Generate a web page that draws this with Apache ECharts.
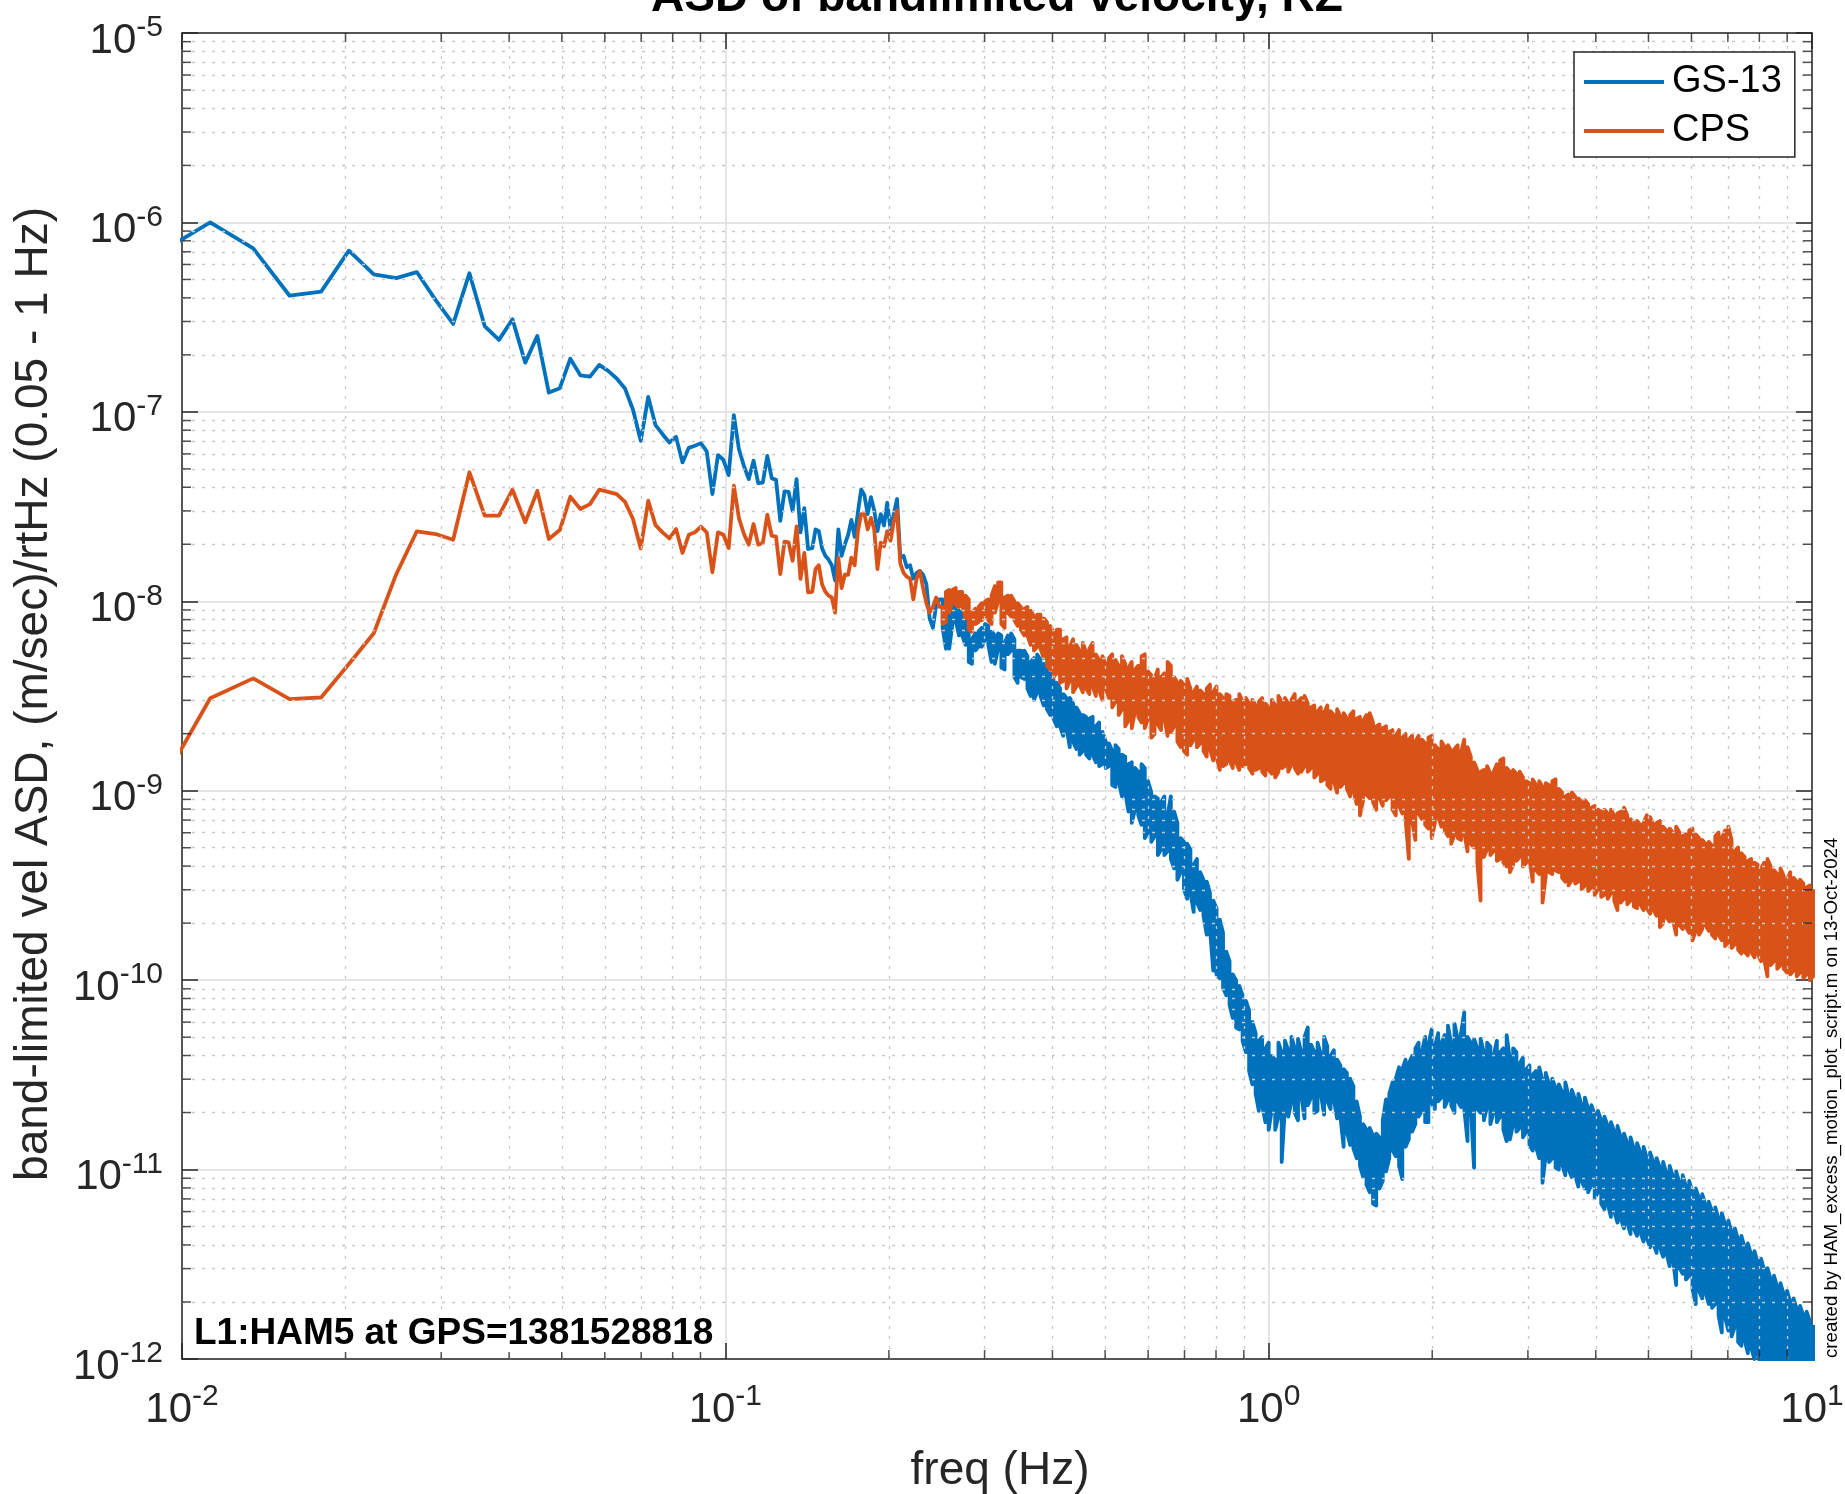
<!DOCTYPE html>
<html><head><meta charset="utf-8">
<script src="https://cdn.jsdelivr.net/npm/echarts@6/dist/echarts.min.js"></script>
<style>html,body{margin:0;padding:0;background:#fff}#c{width:1845px;height:1494px}</style>
</head><body><div id="c"></div>
<script>
// ---------------- data ----------------
const seriesNames = ['GS-13', 'CPS'];
const titleText = 'ASD of bandlimited velocity, RZ';
const xName = 'freq (Hz)';
const yName = 'band-limited vel ASD, (m/sec)/rtHz (0.05 - 1 Hz)';
const noteText = 'L1:HAM5 at GPS=1381528818';
const creditText = 'created by HAM_excess_motion_plot_script.m on 13-Oct-2024';
const xTickExps = [-2, -1, 0, 1];
const yTickExps = [-12, -11, -10, -9, -8, -7, -6, -5];
const minorMantissa = [2, 3, 4, 5, 6, 7, 8, 9];

// low-frequency resolved bins: f = k * binDf, k = 4..63, values as log10
const binDf = 0.002254;
const binK0 = 4;
const gsBinLog = [-6.166,-6.000,-6.137,-6.387,-6.365,-6.149,-6.274,-6.294,-6.262,-6.410,
 -6.536,-6.268,-6.547,-6.620,-6.511,-6.740,-6.599,-6.898,-6.875,-6.719,
 -6.807,-6.814,-6.752,-6.784,-6.824,-6.877,-6.989,-7.153,-6.921,-7.070,
 -7.118,-7.162,-7.132,-7.267,-7.190,-7.179,-7.165,-7.209,-7.434,-7.228,
 -7.253,-7.334,-7.018,-7.197,-7.285,-7.355,-7.258,-7.376,-7.373,-7.232,
 -7.350,-7.359,-7.575,-7.420,-7.422,-7.522,-7.355,-7.636,-7.508,-7.724];
const cpsBinLog = [-9.001,-8.512,-8.407,-8.516,-8.508,-8.331,-8.169,-7.857,-7.631,-7.645,
 -7.675,-7.319,-7.548,-7.548,-7.411,-7.583,-7.417,-7.671,-7.624,-7.448,
 -7.513,-7.487,-7.411,-7.422,-7.434,-7.475,-7.566,-7.721,-7.469,-7.598,
 -7.636,-7.668,-7.619,-7.745,-7.649,-7.636,-7.606,-7.636,-7.847,-7.636,
 -7.649,-7.719,-7.390,-7.561,-7.645,-7.701,-7.592,-7.701,-7.692,-7.543,
 -7.654,-7.659,-7.856,-7.685,-7.689,-7.786,-7.605,-7.882,-7.745,-7.953];

// higher frequencies on a log grid: log10 f = gridLog0 + gridStep * i ; values = 100*log10(ASD)
const gridLog0 = -0.84;
const gridStep = 0.006;
// i = 0..39 : single reading per column
const gsMid = [-772,-762,-763,-772,-776,-778,-781,-789,-762,-776,
 -770,-765,-757,-766,-753,-741,-744,-754,-745,-752,
 -763,-754,-760,-748,-762,-754,-746,-777,-776,-782,
 -781,-788,-785,-784,-786,-791,-809,-814,-802,-799];
const cpsMid = [-795,-783,-781,-791,-795,-797,-798,-806,-777,-793,
 -786,-786,-777,-781,-763,-754,-754,-762,-756,-762,
 -783,-769,-771,-763,-768,-758,-752,-780,-785,-787,
 -788,-799,-788,-784,-793,-801,-806,-803,-798,-803];
// i = 40..307 : column max (hi) and min (lo)
const denseStart = 40;
const gsHi = [-799,-802,-806,-801,-800,-805,-807,-806,-810,-820,
 -817,-816,-814,-812,-813,-816,-818,-817,-818,-822,
 -818,-817,-820,-826,-826,-826,-829,-832,-830,-828,
 -831,-833,-836,
 -838,-841,-843,-846,-849,-851,-851,-854,-856,-859,
 -860,-861,-862,-861,-866,-864,-869,-874,-875,-879,
 -876,-878,-881,-882,-886,-885,-888,-890,-886,-888,
 -895,-901,-903,-904,-906,-903,-913,-903,-911,-917,
 -925,-927,-928,-931,-939,-936,-943,-947,-948,-954,
 -958,
 -962,-968,-975,-985,-990,-997,-1000,-1003,-1008,-1011,
 -1016,-1022,-1028,-1032,-1030,-1036,-1033,-1040,-1042,-1033,
 -1038,-1032,-1037,-1030,-1036,-1031,-1038,-1030,-1025,-1034,
 -1038,-1033,-1039,-1030,-1035,-1040,-1037,-1042,-1045,-1047,
 -1049,-1052,-1056,-1064,-1072,-1076,-1079,-1078,-1082,-1081,
 -1083,-1074,-1063,-1060,-1054,-1052,-1046,-1047,-1042,-1044,
 -1040,-1036,-1033,-1038,-1030,-1034,-1026,-1035,-1028,-1033,
 -1029,-1024,-1034,-1023,-1031,-1028,-1017,-1030,-1033,-1031,
 -1036,-1031,-1038,-1033,-1035,-1040,-1032,-1038,-1036,-1029,
 -1042,-1036,-1038,-1044,-1041,-1047,-1045,-1050,-1048,-1046,
 -1053,-1049,-1055,-1052,-1057,-1055,-1059,-1054,-1061,-1058,
 -1063,-1060,-1066,-1062,-1068,-1066,-1071,-1069,-1074,-1072,
 -1077,-1075,-1080,-1077,-1083,-1081,-1086,-1083,-1089,-1086,
 -1091,-1088,-1094,-1091,-1096,-1094,-1099,-1096,-1102,-1098,
 -1104,-1101,-1107,-1103,-1109,-1106,-1112,-1110,-1115,-1113,
 -1119,-1117,-1122,-1120,-1126,-1123,-1129,-1127,-1133,-1131,
 -1137,-1135,-1141,-1139,-1145,-1143,-1149,-1147,-1153,-1152,
 -1158,-1156,-1162,-1160,-1166,-1164,-1170,-1168,-1174,-1172,
 -1177,-1175,-1180,-1182];
const gsLo = [-814,-825,-825,-812,-810,-818,-818,-823,-832,-833,
 -826,-824,-824,-820,-823,-832,-833,-825,-835,-836,
 -828,-826,-840,-843,-840,-841,-846,-850,-852,-848,
 -850,-855,-857,
 -860,-862,-866,-866,-871,-867,-877,-874,-878,-881,
 -879,-881,-883,-881,-885,-887,-886,-888,-887,-897,
 -898,-895,-903,-901,-911,-917,-910,-913,-918,-925,
 -922,-927,-924,-934,-931,-934,-932,-936,-941,-947,
 -943,-952,-957,-954,-964,-959,-963,-966,-976,-973,
 -995,
 -997,-999,-1004,-1008,-1013,-1020,-1025,-1026,-1032,-1038,
 -1048,-1055,-1060,-1069,-1066,-1075,-1079,-1068,-1079,-1072,
 -1096,-1066,-1072,-1064,-1070,-1074,-1061,-1073,-1066,-1062,
 -1070,-1069,-1060,-1071,-1064,-1068,-1063,-1073,-1072,-1088,
 -1080,-1087,-1089,-1094,-1098,-1104,-1108,-1112,-1118,-1119,
 -1110,-1106,-1101,-1094,-1090,-1093,-1098,-1105,-1088,-1084,
 -1080,-1076,-1072,-1069,-1075,-1075,-1065,-1068,-1064,-1062,
 -1067,-1063,-1066,-1070,-1064,-1067,-1068,-1085,-1066,-1099,
 -1068,-1070,-1074,-1067,-1076,-1070,-1075,-1072,-1079,-1085,
 -1084,-1076,-1080,-1078,-1083,-1080,-1087,-1090,-1088,-1094,
 -1107,-1092,-1096,-1094,-1099,-1100,-1097,-1103,-1100,-1104,
 -1103,-1109,-1106,-1110,-1112,-1108,-1115,-1112,-1118,-1121,
 -1118,-1125,-1122,-1128,-1126,-1131,-1128,-1134,-1131,-1135,
 -1133,-1138,-1136,-1141,-1139,-1144,-1141,-1146,-1144,-1151,
 -1147,-1161,-1152,-1155,-1158,-1156,-1163,-1171,-1164,-1168,
 -1165,-1171,-1173,-1171,-1177,-1186,-1178,-1185,-1188,-1183,
 -1191,-1193,-1190,-1197,-1194,-1200,-1197,-1204,-1201,-1207,
 -1204,-1211,-1207,-1213,-1210,-1216,-1213,-1219,-1216,-1221,
 -1218,-1223,-1220,-1225];
const cpsHi = [-803,-795,-794,-794,-793,-795,-795,-797,-799,-806,
 -804,-803,-801,-800,-799,-797,-792,-790,-790,-798,
 -797,-797,-800,-801,-803,-804,-803,-805,-808,-807,
 -807,-809,-811,
 -813,-816,-815,-815,-820,-819,-824,-820,-823,-826,
 -822,-827,-825,-822,-828,-831,-829,-833,-830,-828,
 -831,-834,-829,-833,-835,-832,-836,-834,-829,-828,
 -837,-839,-841,-836,-840,-838,-832,-834,-840,-843,
 -842,-844,-841,-846,-848,-845,-847,-849,-846,-844,
 -848,-845,-849,-851,-849,-850,-853,-852,-849,-853,
 -851,-854,-852,-855,-853,-851,-854,-856,-852,-855,
 -850,-853,-851,-854,-852,-849,-853,-851,-850,-854,
 -856,-855,-858,-856,-859,-855,-858,-860,-857,-861,
 -859,-862,-860,-858,-862,-861,-863,-860,-859,-864,
 -866,-865,-867,-866,-869,-868,-871,-868,-872,-870,
 -873,-871,-874,-871,-873,-875,-872,-871,-876,-878,
 -874,-877,-876,-879,-878,-876,-880,-873,-877,-882,
 -885,-889,-890,-889,-887,-891,-890,-886,-884,-883,
 -888,-890,-889,-891,-890,-893,-895,-896,-894,-897,
 -895,-898,-896,-897,-895,-894,-899,-901,-903,-902,
 -901,-903,-904,-906,-905,-907,-909,-908,-910,-911,
 -910,-912,-910,-913,-912,-911,-909,-913,-915,-917,
 -916,-918,-917,-913,-914,-918,-917,-916,-919,-921,
 -920,-922,-919,-922,-924,-923,-921,-920,-923,-925,
 -926,-928,-927,-929,-924,-922,-925,-921,-919,-926,
 -932,-930,-933,-935,-937,-936,-938,-939,-941,-938,
 -936,-940,-942,-944,-941,-945,-947,-943,-946,-948,
 -947,-949,-951,-950,-952];
const cpsLo = [-812,-811,-806,-800,-802,-803,-802,-809,-815,-816,
 -812,-811,-810,-808,-810,-812,-806,-800,-812,-814,
 -806,-808,-810,-813,-815,-818,-818,-823,-826,-824,
 -825,-830,-834,
 -836,-840,-838,-843,-842,-846,-842,-848,-845,-844,
 -848,-846,-849,-845,-850,-847,-852,-846,-851,-856,
 -853,-860,-857,-866,-863,-867,-858,-861,-864,-867,
 -862,-872,-870,-865,-868,-862,-871,-869,-866,-874,
 -877,-879,-881,-876,-873,-877,-875,-879,-882,-878,
 -884,-882,-889,-887,-886,-884,-888,-885,-889,-887,
 -886,-888,-891,-889,-888,-890,-892,-889,-891,-893,
 -890,-888,-887,-890,-886,-888,-891,-890,-887,-890,
 -888,-893,-891,-895,-894,-897,-899,-895,-901,-898,
 -896,-899,-903,-900,-907,-913,-905,-902,-904,-906,
 -910,-904,-908,-905,-903,-910,-913,-908,-912,-915,
 -936,-916,-926,-912,-915,-918,-920,-925,-917,-914,
 -919,-921,-924,-928,-923,-925,-926,-922,-932,-928,
 -930,-938,-958,-935,-931,-934,-932,-937,-936,-938,
 -940,-943,-939,-937,-935,-940,-938,-936,-948,-942,
 -944,-959,-945,-943,-944,-942,-943,-946,-948,-950,
 -947,-949,-948,-952,-950,-953,-951,-955,-952,-956,
 -955,-957,-954,-958,-963,-959,-957,-960,-958,-961,
 -962,-960,-963,-962,-965,-963,-966,-972,-970,-967,
 -969,-968,-976,-971,-973,-972,-975,-979,-974,-976,
 -973,-971,-974,-976,-978,-976,-979,-982,-980,-983,
 -981,-984,-986,-985,-987,-985,-988,-986,-990,-989,
 -998,-992,-990,-994,-992,-994,-996,-997,-995,-998,
 -996,-999,-997,-1000,-998];

// ---------------- build ----------------
const FONT = 'Liberation Sans, Arial, Helvetica, sans-serif';
const AX = '#262626';
const gridF = i => Math.pow(10, gridLog0 + gridStep * i);
function buildSeries(binLog, mid, hi, lo) {
  const pts = [];
  for (let j = 0; j < binLog.length; j++) pts.push([(binK0 + j) * binDf, Math.pow(10, binLog[j])]);
  for (let i = 0; i < mid.length; i++) pts.push([gridF(i), Math.pow(10, mid[i] / 100)]);
  const n = Math.min(hi.length, lo.length);
  for (let j = 0; j < n; j++) {
    const f = gridF(denseStart + j);
    const a = [f, Math.pow(10, hi[j] / 100)], b = [f, Math.pow(10, lo[j] / 100)];
    if (j % 2 === 0) pts.push(a, b); else pts.push(b, a);
  }
  return pts;
}
const xMin = Math.pow(10, xTickExps[0]), xMax = Math.pow(10, xTickExps[xTickExps.length - 1]);
const yMin = Math.pow(10, yTickExps[0]), yMax = Math.pow(10, yTickExps[yTickExps.length - 1]);
const xMinor = [], yMinor = [];
for (let e = xTickExps[0]; e < xTickExps[xTickExps.length - 1]; e++) minorMantissa.forEach(m => xMinor.push(m * Math.pow(10, e)));
for (let e = yTickExps[0]; e < yTickExps[yTickExps.length - 1]; e++) minorMantissa.forEach(m => yMinor.push(m * Math.pow(10, e)));

const labelRich = {
  b: { fontSize: 42, lineHeight: 40, padding: [16, 0, 0, 0], fontFamily: FONT, color: AX },
  s: { fontSize: 30, lineHeight: 38, verticalAlign: 'top', fontFamily: FONT, color: AX }
};
const fmt = v => '{b|10}{s|' + Math.round(Math.log10(v)) + '}';

const axisCommon = {
  type: 'log', logBase: 10,
  axisLine: { show: true, lineStyle: { color: AX, width: 1.5 } },
  axisTick: { show: true, inside: true, length: 16, lineStyle: { color: AX, width: 1.5 } },
  minorTick: { show: false }
};
const minorLineStyle = { color: '#c8c8c8', width: 1.3, type: [3, 7] };

const chart = echarts.init(document.getElementById('c'), null, { renderer: 'canvas' });
const tickSym = (data, size, offset) => ({
  type: 'scatter', data, symbol: 'rect', symbolSize: size, symbolOffset: offset,
  itemStyle: { color: AX }, silent: true, clip: false, z: 6, animation: false
});

chart.setOption({
  animation: false,
  backgroundColor: '#fff',
  grid: { left: 182, right: 33, top: 33, bottom: 135, containLabel: false, outerBoundsMode: 'none' },
  xAxis: [
    Object.assign({}, axisCommon, {
      position: 'bottom', min: xMin, max: xMax, splitNumber: 3,
      axisLabel: { formatter: fmt, rich: labelRich, margin: 23, showMinLabel: true, showMaxLabel: true, hideOverlap: false },
      splitLine: { show: true, lineStyle: { color: '#dcdcdc', width: 1.5 } }
    }),
    Object.assign({}, axisCommon, {
      position: 'top', min: xMin, max: xMax, splitNumber: 3,
      axisLabel: { show: false }, splitLine: { show: false }
    })
  ],
  yAxis: [
    Object.assign({}, axisCommon, {
      position: 'left', min: yMin, max: yMax, splitNumber: 7,
      axisLabel: { formatter: fmt, rich: labelRich, margin: 19, showMinLabel: true, showMaxLabel: true, hideOverlap: false },
      splitLine: { show: true, lineStyle: { color: '#dcdcdc', width: 1.5 } }
    }),
    Object.assign({}, axisCommon, {
      position: 'right', min: yMin, max: yMax, splitNumber: 7,
      axisLabel: { show: false }, splitLine: { show: false }
    })
  ],
  legend: {
    orient: 'vertical', left: 1574, top: 52, padding: [11, 13, 7, 10], itemGap: 11, z: 20,
    itemWidth: 80, itemHeight: 4, icon: 'rect', selectedMode: false,
    backgroundColor: '#fff', borderColor: AX, borderWidth: 1.5, borderRadius: 0,
    textStyle: { fontSize: 38, lineHeight: 38, color: '#000', fontFamily: FONT, padding: [0, 0, 0, 3] },
    data: seriesNames
  },
  series: [
    {
      type: 'scatter', name: 'minorgridx', data: [], silent: true, z: 1,
      markLine: {
        silent: true, symbol: ['none', 'none'], label: { show: false }, animation: false,
        lineStyle: minorLineStyle,
        data: xMinor.map(v => [{ coord: [v, yMin] }, { coord: [v, yMax] }])
      }
    },
    {
      type: 'scatter', name: 'minorgridy', data: [], silent: true, z: 1,
      markLine: {
        silent: true, symbol: ['none', 'none'], label: { show: false }, animation: false,
        lineStyle: minorLineStyle,
        data: yMinor.map(v => [{ coord: [xMin, v] }, { coord: [xMax, v] }])
      }
    },
    {
      type: 'line', name: seriesNames[0], data: buildSeries(gsBinLog, gsMid, gsHi, gsLo),
      color: '#0072BD', showSymbol: false, symbol: 'none', z: 3,
      lineStyle: { color: '#0072BD', width: 3.8, join: 'round' }
    },
    {
      type: 'line', name: seriesNames[1], data: buildSeries(cpsBinLog, cpsMid, cpsHi, cpsLo),
      color: '#D95319', showSymbol: false, symbol: 'none', z: 4,
      lineStyle: { color: '#D95319', width: 3.8, join: 'round' }
    },
    tickSym(xMinor.map(v => [v, yMin]), [1.5, 9], [0, -4.5]),
    tickSym(xMinor.map(v => [v, yMax]), [1.5, 9], [0, 4.5]),
    tickSym(yMinor.map(v => [xMin, v]), [9, 1.5], [4.5, 0]),
    tickSym(yMinor.map(v => [xMax, v]), [9, 1.5], [-4.5, 0])
  ],
  graphic: [
    { type: 'text', x: 997, y: -2, z: 10, style: { text: titleText, fontSize: 46, fontWeight: 'bold', fontFamily: FONT, fill: '#000', align: 'center', verticalAlign: 'middle' } },
    { type: 'text', x: 1000, y: 1471, z: 10, style: { text: xName, fontSize: 46, fontFamily: FONT, fill: AX, align: 'center', verticalAlign: 'middle' } },
    { type: 'text', x: 34, y: 694, rotation: Math.PI / 2, z: 10, style: { text: yName, fontSize: 46, fontFamily: FONT, fill: AX, align: 'center', verticalAlign: 'middle' } },
    { type: 'text', x: 1832, y: 1358, rotation: Math.PI / 2, z: 10, style: { text: creditText, fontSize: 18.7, fontFamily: FONT, fill: '#000', align: 'left', verticalAlign: 'middle' } },
    { type: 'text', x: 190, y: 1334, z: 10, style: { text: noteText, fontSize: 37, fontWeight: 'bold', fontFamily: FONT, fill: '#000', align: 'left', verticalAlign: 'middle', backgroundColor: '#fff', padding: [2, 4, 0, 4], lineHeight: 34 } }
  ]
});
</script>
</body></html>
